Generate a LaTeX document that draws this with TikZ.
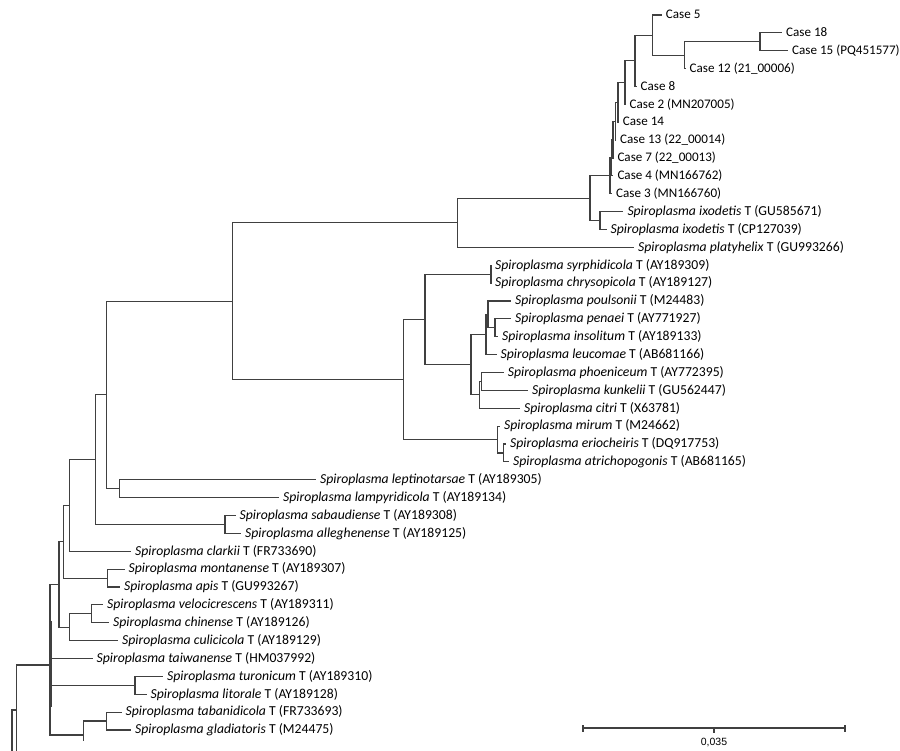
\documentclass[tikz,border=0pt]{standalone}
\usepackage{fontspec}
\setmainfont{Carlito}
\newfontfamily\arialf{Liberation Sans}
\newcommand\spiro[2]{\textit{Spiroplasma #1} T (#2)}
\newcommand\leaf[4]{\node[leaf] (#1) at (#2,#3) {#4};}
\newcommand\cleaf[4]{\node[leaf, caselabel] (#1) at (#2,#3) {#4};}
\newcommand\tip[2]{\draw[br] (#1 |- #2) -- ([xshift=-4.5bp]#2.west);}
\newcommand\stem[2]{\draw[br] (#1 |- #2) -- (#2);}
\newcommand\vspan[3]{\draw[br] (#1 |- #2) -- (#1 |- #3);}
\begin{document}
\begin{tikzpicture}[x=1bp,y=-1bp,
  br/.style={draw=black!75, line width=1.1bp, line cap=rect},
  leaf/.style={anchor=west, inner sep=0pt, text height=7.7bp, text depth=0pt,
    font=\fontsize{13.7bp}{16bp}\selectfont},
  caselabel/.style={text height=7.4bp, font=\fontsize{13.1bp}{16bp}\selectfont},
  sblabel/.style={inner sep=0pt, font=\arialf\fontsize{10.5bp}{12bp}\selectfont}]
\useasboundingbox (0,0) rectangle (900,751);
% ---------- leaves ----------
\cleaf{c5}{665.7}{15}{Case 5}
\cleaf{c18}{786}{32.9}{Case 18}
\cleaf{c15}{792}{50.75}{Case 15 (PQ451577)}
\cleaf{c12}{689.5}{68.6}{Case 12 (21\_00006)}
\cleaf{c8}{640.5}{86.5}{Case 8}
\cleaf{c2}{629.5}{104.4}{Case 2 (MN207005)}
\cleaf{c14}{622.7}{122.25}{Case 14}
\cleaf{c13}{620}{140.1}{Case 13 (22\_00014)}
\cleaf{c7}{617.3}{158}{Case 7 (22\_00013)}
\cleaf{c4}{617.3}{175.9}{Case 4 (MN166762)}
\cleaf{c3}{616}{193.75}{Case 3 (MN166760)}
\leaf{ixGU}{627.3}{211.6}{\spiro{ixodetis}{GU585671}}
\leaf{ixCP}{610.5}{229.5}{\spiro{ixodetis}{CP127039}}
\leaf{platy}{638}{247.4}{\spiro{platyhelix}{GU993266}}
\leaf{syrph}{495}{265.25}{\spiro{syrphidicola}{AY189309}}
\leaf{chryso}{495}{283.1}{\spiro{chrysopicola}{AY189127}}
\leaf{poul}{515}{301}{\spiro{poulsonii}{M24483}}
\leaf{pen}{515}{318.9}{\spiro{penaei}{AY771927}}
\leaf{inso}{502}{336.75}{\spiro{insolitum}{AY189133}}
\leaf{leuco}{500.5}{354.6}{\spiro{leucomae}{AB681166}}
\leaf{phoen}{507.7}{372.5}{\spiro{phoeniceum}{AY772395}}
\leaf{kunk}{532}{390.4}{\spiro{kunkelii}{GU562447}}
\leaf{citri}{524}{408.25}{\spiro{citri}{X63781}}
\leaf{mirum}{504}{426.1}{\spiro{mirum}{M24662}}
\leaf{erioch}{510}{444}{\spiro{eriocheiris}{DQ917753}}
\leaf{atrich}{513}{461.9}{\spiro{atrichopogonis}{AB681165}}
\leaf{lept}{320}{479.75}{\spiro{leptinotarsae}{AY189305}}
\leaf{lamp}{283}{497.6}{\spiro{lampyridicola}{AY189134}}
\leaf{sab}{239.5}{515.5}{\spiro{sabaudiense}{AY189308}}
\leaf{alle}{245}{533.4}{\spiro{alleghenense}{AY189125}}
\leaf{clark}{135}{551.25}{\spiro{clarkii}{FR733690}}
\leaf{mont}{128.5}{569.1}{\spiro{montanense}{AY189307}}
\leaf{apis}{124}{587}{\spiro{apis}{GU993267}}
\leaf{velo}{107}{604.9}{\spiro{velocicrescens}{AY189311}}
\leaf{chin}{113}{622.75}{\spiro{chinense}{AY189126}}
\leaf{culi}{122}{640.6}{\spiro{culicicola}{AY189129}}
\leaf{taiw}{96.5}{658.5}{\spiro{taiwanense}{HM037992}}
\leaf{turo}{167}{676.4}{\spiro{turonicum}{AY189310}}
\leaf{lito}{150.5}{694.25}{\spiro{litorale}{AY189128}}
\leaf{taba}{125.5}{712.1}{\spiro{tabanidicola}{FR733693}}
\leaf{glad}{135}{730}{\spiro{gladiatoris}{M24475}}
% ---------- internal nodes ----------
\coordinate (nC) at (760,41.8);
\coordinate (nB) at (684.3,55.2);
\coordinate (nA) at (652.7,35.1);
\coordinate (nD) at (635,60.8);
\coordinate (nE) at (625,82.6);
\coordinate (nF) at (618,102.4);
\coordinate (nG) at (615.5,121.3);
\coordinate (nH) at (613,139.6);
\coordinate (nI) at (611.5,157.8);
\coordinate (nJ) at (610,175.8);
\coordinate (nIx) at (600,220.55);
\coordinate (n590) at (590,198.2);
\coordinate (n457) at (457.3,222.8);
\coordinate (nSy) at (491,274.2);
\coordinate (nP3) at (495,327.8);
\coordinate (nP2) at (488,314.4);
\coordinate (nP1) at (486,334.5);
\coordinate (nQ2) at (481.7,381.45);
\coordinate (nQ1) at (479.3,394.85);
\coordinate (n471) at (471,364.7);
\coordinate (n425) at (425,319.4);
\coordinate (nM2) at (503.3,452.95);
\coordinate (nM1) at (497.3,439.5);
\coordinate (n403) at (403.3,379.5);
\coordinate (n232) at (232.7,301.1);
\coordinate (nL) at (119.3,488.7);
\coordinate (n106) at (106.5,394.9);
\coordinate (nSA) at (225,524.45);
\coordinate (n95) at (95.3,459.7);
\coordinate (n69) at (69.3,505.5);
\coordinate (nMA) at (107.3,578.05);
\coordinate (n63) at (63.3,541.8);
\coordinate (nVC) at (91.7,613.8);
\coordinate (n69b) at (69.3,627.2);
\coordinate (n59) at (59,584.5);
\coordinate (nTL) at (135,685.3);
\coordinate (nTG) at (106.7,721);
\coordinate (nX) at (83.3,735);
\coordinate (nXend) at (83.3,740);
\coordinate (n50) at (50,665);
\coordinate (n50b) at (51.6,622);
\coordinate (n50c) at (51.6,706);
\coordinate (n17) at (16.7,710);
\coordinate (n17end) at (16.7,751);
\coordinate (n12) at (12,710);
\coordinate (n12end) at (12,751);
% ---------- branches ----------
\vspan{nC}{c18}{c15} \tip{nC}{c18} \tip{nC}{c15} \stem{nB}{nC}
\vspan{nB}{nC}{c12} \tip{nB}{c12} \stem{nA}{nB}
\vspan{nA}{c5}{nB} \tip{nA}{c5} \stem{nD}{nA}
\vspan{nD}{nA}{c8} \tip{nD}{c8} \stem{nE}{nD}
\vspan{nE}{nD}{c2} \tip{nE}{c2} \stem{nF}{nE}
\vspan{nF}{nE}{c14} \tip{nF}{c14} \stem{nG}{nF}
\vspan{nG}{nF}{c13} \tip{nG}{c13} \stem{nH}{nG}
\vspan{nH}{nG}{c7} \tip{nH}{c7} \stem{nI}{nH}
\vspan{nI}{nH}{c4} \tip{nI}{c4} \stem{nJ}{nI}
\vspan{nJ}{nI}{c3} \tip{nJ}{c3} \stem{n590}{nJ}
\vspan{nIx}{ixGU}{ixCP} \tip{nIx}{ixGU} \tip{nIx}{ixCP} \stem{n590}{nIx}
\vspan{n590}{nJ}{nIx} \stem{n457}{n590}
\vspan{n457}{n590}{platy} \tip{n457}{platy} \stem{n232}{n457}
\vspan{nSy}{syrph}{chryso} \tip{nSy}{syrph} \tip{nSy}{chryso} \stem{n425}{nSy}
\vspan{nP3}{pen}{inso} \tip{nP3}{pen} \tip{nP3}{inso} \stem{nP2}{nP3}
\vspan{nP2}{poul}{nP3} \tip{nP2}{poul} \stem{nP1}{nP2}
\vspan{nP1}{nP2}{leuco} \tip{nP1}{leuco} \stem{n471}{nP1}
\vspan{nQ2}{phoen}{kunk} \tip{nQ2}{phoen} \tip{nQ2}{kunk} \stem{nQ1}{nQ2}
\vspan{nQ1}{nQ2}{citri} \tip{nQ1}{citri} \stem{n471}{nQ1}
\vspan{n471}{nP1}{nQ1} \stem{n425}{n471}
\vspan{n425}{nSy}{n471} \stem{n403}{n425}
\vspan{nM2}{erioch}{atrich} \tip{nM2}{erioch} \tip{nM2}{atrich} \stem{nM1}{nM2}
\vspan{nM1}{mirum}{nM2} \tip{nM1}{mirum} \stem{n403}{nM1}
\vspan{n403}{n425}{nM1} \stem{n232}{n403}
\vspan{n232}{n457}{n403} \stem{n106}{n232}
\vspan{nL}{lept}{lamp} \tip{nL}{lept} \tip{nL}{lamp} \stem{n106}{nL}
\vspan{n106}{n232}{nL} \stem{n95}{n106}
\vspan{nSA}{sab}{alle} \tip{nSA}{sab} \tip{nSA}{alle} \stem{n95}{nSA}
\vspan{n95}{n106}{nSA} \stem{n69}{n95}
\vspan{n69}{n95}{clark} \tip{n69}{clark} \stem{n63}{n69}
\vspan{nMA}{mont}{apis} \tip{nMA}{mont} \tip{nMA}{apis} \stem{n63}{nMA}
\vspan{n63}{n69}{nMA} \stem{n59}{n63}
\vspan{nVC}{velo}{chin} \tip{nVC}{velo} \tip{nVC}{chin} \stem{n69b}{nVC}
\vspan{n69b}{nVC}{culi} \tip{n69b}{culi} \stem{n59}{n69b}
\vspan{n59}{n63}{n69b} \stem{n50}{n59}
\tip{n50}{taiw}
\vspan{nTL}{turo}{lito} \tip{nTL}{turo} \tip{nTL}{lito} \stem{n50}{nTL}
\vspan{nTG}{taba}{glad} \tip{nTG}{taba} \tip{nTG}{glad} \stem{nX}{nTG}
\draw[br] (nX |- nTG) -- (nXend);
\stem{n50}{nX}
\vspan{n50}{n59}{nX}
\draw[br] (n50b) -- (n50c);
\stem{n17}{n50}
\draw[br] (n17 |- n50) -- (n17end);
\stem{n12}{n17}
\draw[br, line cap=butt] (n12) -- (n12end);
% ---------- scale bar ----------
\coordinate (sbL) at (583,728);
\coordinate (sbM) at (714,728);
\coordinate (sbR) at (845,728);
\draw[br, line cap=butt] (sbL) -- (sbR);
\draw[br, line cap=butt] ([yshift=-3.5bp]sbL) -- ([yshift=3.5bp]sbL);
\draw[br, line cap=butt] ([yshift=-3.5bp]sbR) -- ([yshift=3.5bp]sbR);
\draw[br, line cap=butt] (sbM) -- ([yshift=-4.5bp]sbM);
\node[sblabel] (sblab) at (714,742.5) {0,035};
\end{tikzpicture}
\end{document}
